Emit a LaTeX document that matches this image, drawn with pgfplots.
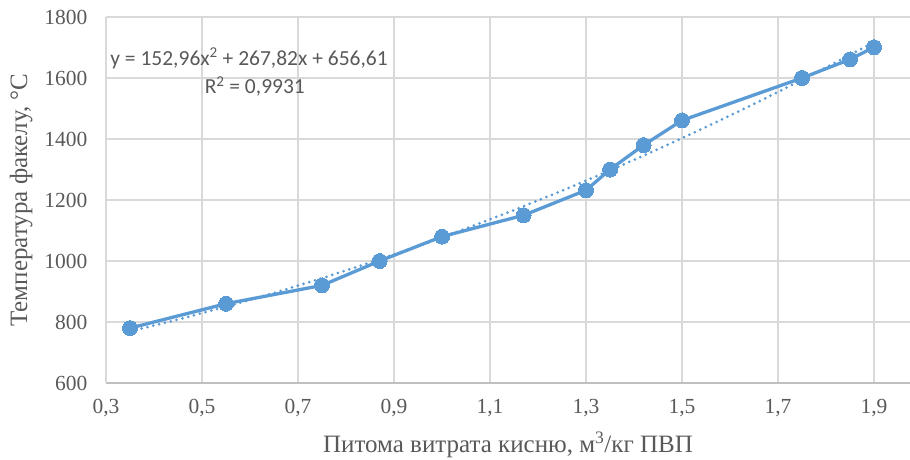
\documentclass[border=0pt]{standalone}
\usepackage{pgfplots}
\pgfplotsset{compat=1.18}
\usepackage{fontspec}
\setmainfont{Liberation Serif}
\newfontfamily\calibri{Carlito}
\definecolor{ser}{HTML}{5B9BD5}
\definecolor{txt}{HTML}{595959}
\definecolor{grd}{HTML}{D9D9D9}
\definecolor{axl}{HTML}{BFBFBF}
\begin{document}
\begin{tikzpicture}
\path[use as bounding box] (-106pt,-76pt) rectangle (804pt,383pt);
\begin{axis}[
  at={(0,0)}, anchor=south west,
  scale only axis, width=804pt, height=366pt,
  xmin=0.3, xmax=1.975, ymin=600, ymax=1800,
  xtick={0.3,0.5,0.7,0.9,1.1,1.3,1.5,1.7,1.9},
  ytick={600,800,1000,1200,1400,1600,1800},
  xticklabels={\textrm{0,3},\textrm{0,5},\textrm{0,7},\textrm{0,9},\textrm{1,1},\textrm{1,3},\textrm{1,5},\textrm{1,7},\textrm{1,9}},
  yticklabels={\textrm{600},\textrm{800},\textrm{1000},\textrm{1200},\textrm{1400},\textrm{1600},\textrm{1800}},
  grid=major, major grid style={grd, line width=1.2pt},
  axis x line*=bottom, axis y line*=left,
  x axis line style={axl, line width=1.3pt, -},
  y axis line style={grd, line width=1.2pt, -},
  major tick length=0pt,
  tick label style={font=\rmfamily\fontsize{21.5}{26}\selectfont, text=txt},
  xticklabel style={yshift=-13pt},
  yticklabel style={xshift=-15pt},
  xlabel={Питома витрата кисню, м\textsuperscript{3}/кг ПВП},
  ylabel={Температура факелу, °C},
  label style={font=\fontsize{25}{28}\selectfont, text=txt},
  xlabel style={yshift=-8pt},
  ylabel style={yshift=5pt},
  clip=false,
]
\addplot[ser, line width=3pt, line cap=round, dash pattern=on 0pt off 6pt, forget plot] coordinates {
(0.35,769.08) (0.45,808.10) (0.55,850.18) (0.65,895.32) (0.75,943.52) (0.85,994.77)
(0.95,1049.09) (1.05,1106.46) (1.15,1166.89) (1.25,1230.39) (1.35,1296.94) (1.45,1366.55)
(1.55,1439.22) (1.65,1514.94) (1.75,1593.74) (1.85,1675.58) (1.9,1717.66)};
\addplot[ser, line width=3.3pt, line join=round, mark=*, mark size=7.5pt, mark options={fill=ser, draw=ser, line width=0pt}] coordinates {
(0.35,780) (0.55,860) (0.75,920) (0.87,1000) (1.0,1080) (1.17,1150) (1.3,1232)
(1.35,1300) (1.42,1380) (1.5,1461) (1.75,1600) (1.85,1661) (1.9,1701)};
\node[font=\calibri\fontsize{21.5}{24}\selectfont, text=txt] at (axis cs:0.598,1664) {y = 152,96x\textsuperscript{2} + 267,82x + 656,61};
\node[font=\calibri\fontsize{21.5}{24}\selectfont, text=txt] at (axis cs:0.61,1572) {R\textsuperscript{2} = 0,9931};
\end{axis}
\end{tikzpicture}
\end{document}
